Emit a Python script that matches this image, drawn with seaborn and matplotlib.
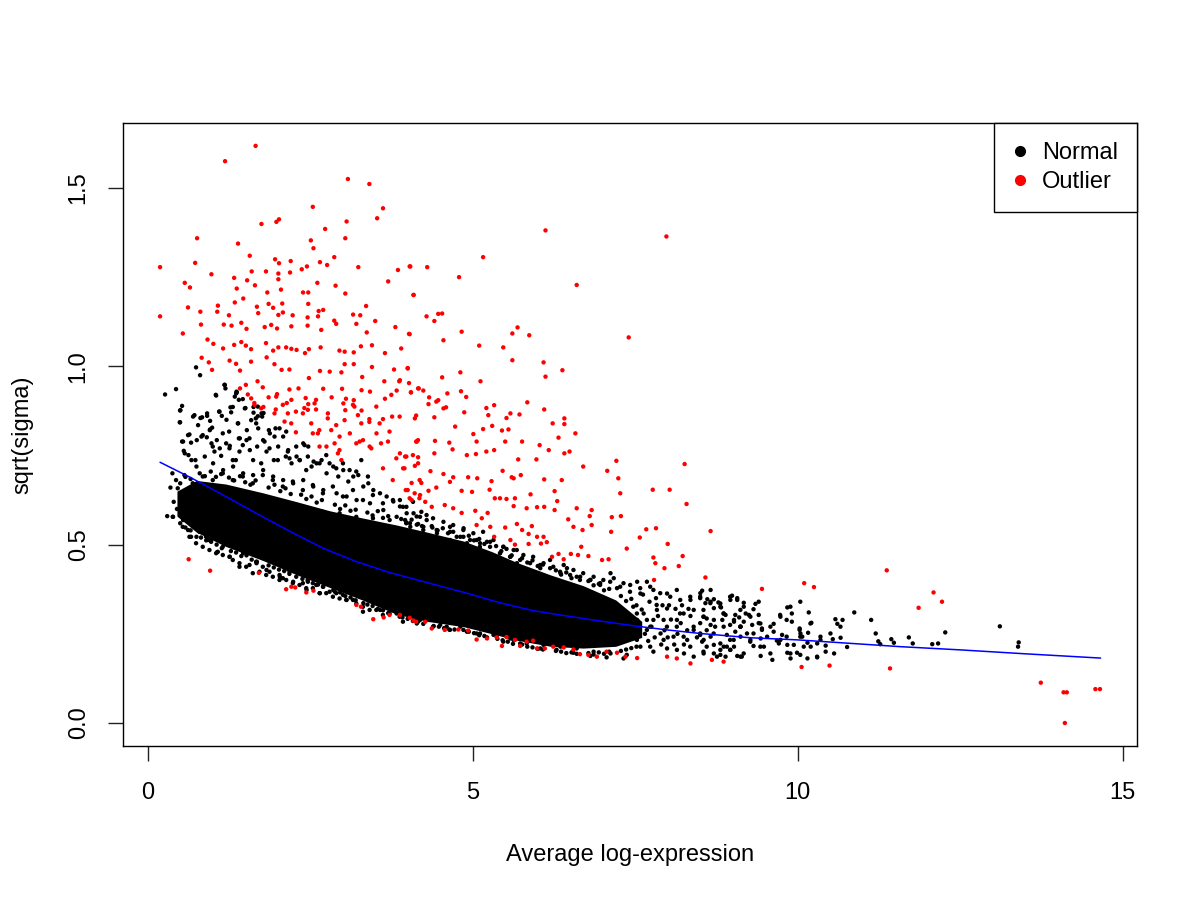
import numpy as np
import pandas as pd
import matplotlib
matplotlib.use('Agg')
import matplotlib.pyplot as plt
from matplotlib.lines import Line2D
import seaborn as sns

# --- DATA ---
# dense (nearly solid) part of the cloud: x, lower edge, upper edge
CORE_X = [0.45, 0.75, 1.2, 1.78, 2.3, 2.8, 3.3, 3.83, 4.3, 4.86, 5.3, 5.68, 6.2, 6.7, 7.2, 7.6]
CORE_LO = [0.58, 0.535, 0.495, 0.455, 0.415, 0.38, 0.345, 0.305, 0.285, 0.27, 0.25, 0.232, 0.215, 0.21, 0.215, 0.24]
CORE_HI = [0.65, 0.68, 0.67, 0.645, 0.62, 0.595, 0.575, 0.555, 0.535, 0.51, 0.48, 0.45, 0.415, 0.385, 0.345, 0.285]

# scattered normal points around the dense part
NORMAL_PTS = [
    (0.267, 0.921), (0.436, 0.936), (1.181, 0.948), (1.196, 0.938), (1.361, 0.924), (1.053, 0.918),
    (1.402, 0.906), (0.529, 0.889), (0.498, 0.876), (0.719, 0.863), (0.837, 0.857), (0.914, 0.861),
    (0.960, 0.847), (0.991, 0.828), (1.104, 0.873), (1.140, 0.861), (1.273, 0.885), (1.284, 0.871),
    (1.386, 0.840), (0.498, 0.843), (0.642, 0.809), (0.529, 0.789), (0.555, 0.763), (0.627, 0.751),
    (0.667, 0.786), (0.755, 0.793), (0.734, 0.737), (0.847, 0.807), (0.909, 0.801), (0.960, 0.823),
    (1.001, 0.775), (1.027, 0.761), (1.063, 0.793), (1.130, 0.749), (1.155, 0.812), (1.207, 0.784),
    (1.258, 0.770), (1.309, 0.737), (1.402, 0.798), (1.412, 0.761), (1.463, 0.779), (1.525, 0.821),
    (1.566, 0.798), (1.592, 0.849), (1.628, 0.870), (1.669, 0.840), (1.684, 0.775), (1.694, 0.887),
    (1.746, 0.728), (1.761, 0.859), (1.797, 0.789), (1.864, 0.821), (1.874, 0.770), (1.951, 0.803),
    (2.002, 0.737), (2.028, 0.826), (2.131, 0.817), (2.156, 0.761), (2.182, 0.742), (2.285, 0.775),
    (2.336, 0.737), (2.413, 0.779), (2.439, 0.709), (2.464, 0.747), (2.552, 0.733), (2.644, 0.728),
    (2.747, 0.751), (2.798, 0.728), (2.901, 0.714), (3.004, 0.728), (3.106, 0.709), (3.209, 0.705),
    (3.286, 0.737), (3.388, 0.691), (0.385, 0.578), (0.462, 0.658), (0.513, 0.635), (0.565, 0.611),
    (0.591, 0.569), (0.667, 0.522), (0.719, 0.550), (0.796, 0.536), (0.898, 0.522), (0.976, 0.508),
    (1.078, 0.480), (1.155, 0.494), (1.258, 0.466), (1.412, 0.448), (1.566, 0.443), (1.669, 0.452),
    (1.771, 0.438), (1.874, 0.424), (2.028, 0.415), (2.079, 0.406), (2.182, 0.424), (2.285, 0.410),
    (2.387, 0.392), (2.464, 0.396), (2.593, 0.387), (2.696, 0.382), (2.798, 0.368), (2.901, 0.364),
    (3.004, 0.359), (3.158, 0.345), (3.312, 0.326), (3.517, 0.317), (3.722, 0.307), (3.876, 0.298),
    (4.030, 0.307), (4.133, 0.289),
    (0.744, 0.997), (0.806, 0.975), (0.811, 0.855), (1.309, 0.886), (1.371, 0.927), (1.463, 0.908),
    (1.504, 0.883), (1.628, 0.886), (1.694, 0.860), (1.782, 0.869),
    (0.30, 0.58), (0.35, 0.66), (0.40, 0.62), (0.45, 0.60), (0.38, 0.70),
    (0.436, 0.681), (0.565, 0.695), (0.693, 0.672), (0.847, 0.691), (1.001, 0.681), (1.155, 0.700),
    (1.309, 0.681), (1.463, 0.691), (1.617, 0.672), (1.771, 0.695), (1.925, 0.681), (2.079, 0.663),
    (2.233, 0.677), (2.387, 0.653), (2.541, 0.667), (2.696, 0.644), (2.849, 0.663), (3.004, 0.635),
    (3.158, 0.653), (3.312, 0.625), (3.465, 0.639), (3.619, 0.616), (3.773, 0.625), (3.927, 0.606),
    (4.082, 0.620), (4.210, 0.592), (0.642, 0.644), (0.898, 0.635), (1.155, 0.639), (1.412, 0.625),
    (1.669, 0.616), (1.925, 0.606), (2.182, 0.616), (2.439, 0.597), (2.696, 0.592), (2.952, 0.588),
    (3.209, 0.578), (3.465, 0.574), (3.722, 0.569), (3.978, 0.560),
    (0.642, 0.522), (0.847, 0.494), (1.053, 0.476), (1.309, 0.457), (1.515, 0.438), (1.720, 0.424),
    (1.925, 0.410), (2.131, 0.401), (2.336, 0.387), (2.541, 0.378), (2.747, 0.364), (2.952, 0.349),
    (3.209, 0.335), (3.414, 0.317), (0.539, 0.550), (0.744, 0.504), (0.950, 0.485), (1.155, 0.471),
    (1.412, 0.438), (1.617, 0.420), (1.823, 0.415), (2.028, 0.401), (2.233, 0.392), (2.439, 0.378),
    (2.644, 0.364), (2.849, 0.354), (3.055, 0.345), (3.312, 0.312), (3.619, 0.303), (3.927, 0.284),
    (3.88, 0.625), (3.98, 0.606), (4.09, 0.588), (4.19, 0.578), (4.29, 0.583), (4.39, 0.574),
    (4.55, 0.564), (4.70, 0.555), (4.86, 0.546), (5.01, 0.532), (5.16, 0.536), (5.32, 0.513),
    (5.47, 0.494), (5.63, 0.485), (5.78, 0.471), (5.93, 0.466), (6.09, 0.448), (6.24, 0.438),
    (6.40, 0.443), (6.55, 0.429), (6.70, 0.420), (6.86, 0.410), (7.01, 0.401), (7.17, 0.406),
    (7.32, 0.392), (4.04, 0.550), (4.24, 0.541), (4.45, 0.532), (4.65, 0.513), (4.91, 0.504),
    (5.11, 0.494), (5.42, 0.476), (5.68, 0.448), (6.04, 0.434), (6.35, 0.420), (6.65, 0.401),
    (6.96, 0.387), (7.22, 0.378), (3.96, 0.569), (4.16, 0.558), (4.37, 0.552), (4.81, 0.522),
    (5.22, 0.508), (5.58, 0.466), (6.19, 0.457), (6.45, 0.434), (6.81, 0.401), (7.12, 0.420),
    (3.88, 0.307), (4.04, 0.298), (4.19, 0.289), (4.50, 0.275), (4.81, 0.270), (5.06, 0.251),
    (5.32, 0.247), (5.58, 0.237), (5.83, 0.223), (6.09, 0.219), (6.35, 0.214), (6.60, 0.209),
    (6.86, 0.200), (7.12, 0.195), (7.37, 0.191), (4.14, 0.279), (4.39, 0.270), (4.65, 0.261),
    (4.91, 0.256), (5.22, 0.240), (5.47, 0.228), (5.73, 0.223), (6.04, 0.209), (6.29, 0.205),
    (6.55, 0.197), (6.81, 0.188), (7.06, 0.184), (7.32, 0.181),
    (7.53, 0.396), (7.68, 0.396), (7.42, 0.368), (7.58, 0.363), (7.78, 0.373), (7.99, 0.363),
    (8.14, 0.373), (8.35, 0.345), (8.50, 0.354), (8.66, 0.340), (8.81, 0.335), (8.96, 0.354),
    (9.07, 0.345), (9.17, 0.326), (7.47, 0.326), (7.63, 0.307), (7.83, 0.331), (7.99, 0.321),
    (8.19, 0.307), (8.40, 0.317), (8.55, 0.298), (8.71, 0.289), (8.86, 0.307), (9.02, 0.284),
    (9.12, 0.270), (7.47, 0.251), (7.68, 0.261), (7.89, 0.251), (8.09, 0.242), (8.30, 0.233),
    (8.50, 0.247), (8.71, 0.219), (8.91, 0.214), (9.12, 0.186), (7.58, 0.214), (7.78, 0.200),
    (7.99, 0.209), (8.25, 0.195), (8.40, 0.186), (8.81, 0.191), (8.96, 0.205), (9.22, 0.251),
    (7.53, 0.289), (7.78, 0.289), (8.14, 0.270), (8.40, 0.261),
    (8.53, 0.371), (8.66, 0.373), (8.50, 0.350), (8.61, 0.347), (8.71, 0.347), (8.78, 0.338),
    (8.99, 0.357), (9.07, 0.350), (9.17, 0.337), (9.35, 0.334), (9.40, 0.340), (9.32, 0.319),
    (9.20, 0.307), (9.10, 0.296), (9.04, 0.303), (8.86, 0.307), (8.71, 0.322), (8.55, 0.317),
    (8.60, 0.293), (8.73, 0.270), (8.84, 0.289), (8.96, 0.275), (9.12, 0.270), (9.25, 0.303),
    (9.40, 0.280), (9.45, 0.261), (9.63, 0.278), (9.73, 0.303), (9.84, 0.324), (9.91, 0.307),
    (10.04, 0.340), (10.03, 0.265), (10.17, 0.310), (10.21, 0.281), (10.07, 0.242), (10.15, 0.225),
    (10.30, 0.223), (10.35, 0.233), (10.43, 0.217), (10.54, 0.235), (10.58, 0.291), (10.61, 0.278),
    (10.66, 0.239), (10.69, 0.289), (10.76, 0.213), (10.87, 0.310), (11.13, 0.289), (11.20, 0.251),
    (11.24, 0.229), (11.27, 0.221), (11.44, 0.235), (11.48, 0.225), (11.71, 0.240), (11.77, 0.223),
    (12.07, 0.221), (12.16, 0.223), (12.27, 0.254), (13.11, 0.271), (13.40, 0.226), (13.39, 0.214),
    (8.50, 0.251), (8.66, 0.242), (8.81, 0.223), (8.96, 0.233), (9.12, 0.242), (9.27, 0.228),
    (9.43, 0.237), (9.53, 0.242), (9.68, 0.231), (9.84, 0.219), (9.94, 0.219), (8.55, 0.200),
    (8.71, 0.195), (8.89, 0.186), (9.07, 0.188), (9.14, 0.186), (9.43, 0.188), (9.61, 0.177),
    (9.84, 0.197), (9.89, 0.181), (9.99, 0.197), (10.04, 0.191), (10.15, 0.181), (10.30, 0.184),
    (10.43, 0.200), (10.56, 0.195), (8.60, 0.214), (8.81, 0.205), (9.02, 0.214), (9.32, 0.216),
    (9.48, 0.214), (9.71, 0.223), (9.83, 0.242), (10.04, 0.242), (10.16, 0.253), (9.32, 0.251),
    (9.04, 0.256), (8.91, 0.247), (8.53, 0.228), (8.66, 0.275), (8.58, 0.336), (8.82, 0.324),
    (8.89, 0.303), (9.02, 0.289), (9.17, 0.284), (9.30, 0.275), (9.40, 0.303), (9.45, 0.265),
    (9.63, 0.256), (9.76, 0.247), (9.83, 0.289), (9.91, 0.284), (10.03, 0.261), (10.20, 0.214),
    (0.503, 0.877), (0.493, 0.843), (0.544, 0.789), (0.621, 0.807), (0.698, 0.859), (0.775, 0.835),
    (0.827, 0.803), (0.914, 0.868), (0.955, 0.821), (0.981, 0.784), (1.047, 0.920), (1.099, 0.873),
    (1.109, 0.770), (1.186, 0.948), (1.212, 0.850), (1.253, 0.817), (1.263, 0.777), (1.340, 0.915),
    (1.356, 0.737), (1.366, 0.929), (1.392, 0.840), (1.417, 0.798), (1.494, 0.882), (1.520, 0.793),
    (1.571, 0.765), (1.622, 0.737), (1.663, 0.854), (1.700, 0.826), (1.751, 0.868), (1.776, 0.793),
    (1.828, 0.761), (1.879, 0.812), (1.941, 0.737), (1.966, 0.826), (2.007, 0.775), (2.084, 0.803),
    (2.125, 0.747), (2.161, 0.765), (2.213, 0.728), (2.290, 0.747), (2.341, 0.737), (2.393, 0.784),
    (2.470, 0.775), (2.521, 0.719), (2.598, 0.728), (2.675, 0.737), (2.752, 0.700), (2.855, 0.719),
    (2.932, 0.691), (3.009, 0.709), (3.086, 0.677), (3.163, 0.691), (3.240, 0.695), (3.317, 0.663),
    (3.394, 0.672), (3.471, 0.653), (3.574, 0.644), (3.676, 0.635), (3.779, 0.621), (3.881, 0.607),
    (3.984, 0.588), (4.138, 0.579), (4.292, 0.569),
    (0.570, 0.756), (0.673, 0.737), (0.750, 0.719), (0.878, 0.747), (1.006, 0.728), (1.160, 0.709),
    (1.314, 0.719), (1.468, 0.700), (1.622, 0.695), (1.776, 0.709), (1.930, 0.691), (2.084, 0.681),
    (2.238, 0.672), (2.393, 0.681), (2.547, 0.663), (2.701, 0.653), (2.906, 0.644), (3.060, 0.635),
    (3.214, 0.625), (3.420, 0.616), (3.625, 0.597), (3.830, 0.578), (4.035, 0.560), (4.241, 0.550),
    (4.446, 0.541), (4.651, 0.536), (4.857, 0.522), (5.062, 0.513), (5.268, 0.508), (5.473, 0.494),
    (5.678, 0.485),
    (0.390, 0.578), (0.544, 0.569), (0.621, 0.541), (0.750, 0.522), (0.929, 0.513), (1.068, 0.479),
    (1.263, 0.466), (1.468, 0.476), (1.674, 0.448), (1.828, 0.429), (2.033, 0.410), (2.238, 0.396),
    (2.444, 0.373), (2.649, 0.364), (2.855, 0.373), (3.060, 0.345), (3.317, 0.336), (3.574, 0.317),
    (3.830, 0.307), (4.087, 0.298), (4.343, 0.289), (4.600, 0.270), (4.857, 0.261), (5.113, 0.251),
    (5.370, 0.242), (5.627, 0.233),
    (4.651, 0.550), (4.754, 0.522), (4.856, 0.541), (4.959, 0.513), (5.113, 0.504), (5.267, 0.494),
    (5.421, 0.476), (5.575, 0.466), (5.729, 0.457), (5.883, 0.448), (6.037, 0.443), (6.191, 0.434),
    (6.345, 0.424), (6.499, 0.415), (6.653, 0.410), (6.807, 0.401), (6.961, 0.392), (7.115, 0.396),
    (7.269, 0.382), (7.423, 0.387), (7.577, 0.378), (7.731, 0.382), (7.885, 0.364), (8.039, 0.354),
    (8.193, 0.345), (8.347, 0.354), (8.502, 0.364), (8.656, 0.336), (8.810, 0.326), (8.964, 0.345),
    (9.118, 0.317), (9.272, 0.298), (9.426, 0.279), (9.580, 0.270), (9.734, 0.298), (9.888, 0.326),
    (10.042, 0.251), (10.196, 0.279), (10.350, 0.242), (10.504, 0.251), (10.658, 0.270),
    (7.526, 0.307), (7.680, 0.289), (7.834, 0.317), (7.988, 0.270), (8.142, 0.289), (8.245, 0.242),
    (8.399, 0.270), (8.553, 0.233), (8.707, 0.251), (8.861, 0.214), (9.015, 0.233), (9.169, 0.195),
    (7.526, 0.233), (7.731, 0.214), (7.937, 0.233), (8.142, 0.205), (8.347, 0.214), (8.553, 0.195),
    (8.758, 0.186), (8.964, 0.205), (7.731, 0.270), (7.937, 0.289), (8.245, 0.307), (8.553, 0.298),
    (8.861, 0.270), (9.118, 0.270), (9.272, 0.233), (9.426, 0.214), (9.580, 0.195), (9.734, 0.233),
    (9.888, 0.195), (10.093, 0.214), (10.298, 0.186),
    # points hugging the upper edge of the dense part
    (0.50, 0.672), (0.58, 0.690), (0.66, 0.684), (0.80, 0.700), (0.88, 0.692), (0.97, 0.705),
    (1.05, 0.690), (1.13, 0.698), (1.25, 0.688), (1.33, 0.680), (1.42, 0.692), (1.50, 0.675),
    (1.58, 0.668), (1.66, 0.680), (1.86, 0.660), (1.95, 0.668), (2.04, 0.650), (2.12, 0.658),
    (2.20, 0.642), (2.36, 0.640), (2.44, 0.628), (2.52, 0.635), (2.60, 0.618), (2.68, 0.625),
    (2.88, 0.612), (2.96, 0.600), (3.04, 0.610), (3.12, 0.595), (3.20, 0.598), (3.38, 0.590),
    (3.46, 0.582), (3.54, 0.594), (3.62, 0.575), (3.70, 0.580), (3.90, 0.572), (3.98, 0.562),
    (4.06, 0.570), (4.14, 0.556), (4.22, 0.552), (4.38, 0.548), (4.46, 0.540), (4.54, 0.546),
    (4.62, 0.532), (4.70, 0.536), (4.94, 0.525), (5.02, 0.512), (5.10, 0.516), (5.18, 0.502),
    (5.36, 0.496), (5.44, 0.482), (5.52, 0.488), (5.60, 0.470), (5.76, 0.462), (5.84, 0.450),
    (5.92, 0.456), (6.00, 0.440), (6.08, 0.444), (6.28, 0.428), (6.36, 0.416), (6.44, 0.422),
    (6.52, 0.406), (6.60, 0.410), (6.78, 0.398), (6.86, 0.386), (6.94, 0.390), (7.02, 0.372),
    (7.10, 0.376), (7.28, 0.356), (7.36, 0.342), (7.44, 0.348), (7.52, 0.330), (7.60, 0.318),
    # points hugging the lower edge of the dense part
    (0.50, 0.560), (0.58, 0.548), (0.66, 0.540), (0.82, 0.520), (0.90, 0.512), (0.98, 0.515),
    (1.06, 0.500), (1.14, 0.490), (1.28, 0.482), (1.36, 0.478), (1.44, 0.468), (1.52, 0.470),
    (1.60, 0.458), (1.68, 0.452), (1.86, 0.442), (1.94, 0.436), (2.02, 0.430), (2.10, 0.426),
    (2.18, 0.418), (2.38, 0.404), (2.46, 0.400), (2.54, 0.392), (2.62, 0.388), (2.70, 0.382),
    (2.88, 0.368), (2.96, 0.366), (3.04, 0.356), (3.12, 0.352), (3.20, 0.344), (3.38, 0.332),
    (3.46, 0.328), (3.54, 0.320), (3.62, 0.316), (3.70, 0.308), (3.92, 0.296), (4.00, 0.292),
    (4.08, 0.286), (4.16, 0.284), (4.24, 0.278), (4.40, 0.272), (4.48, 0.270), (4.56, 0.266),
    (4.64, 0.262), (4.72, 0.262), (4.94, 0.256), (5.02, 0.252), (5.10, 0.246), (5.18, 0.244),
    (5.38, 0.236), (5.46, 0.232), (5.54, 0.228), (5.62, 0.222), (5.76, 0.220), (5.84, 0.214),
    (5.92, 0.212), (6.00, 0.208), (6.08, 0.206), (6.28, 0.202), (6.36, 0.200), (6.44, 0.196),
    (6.52, 0.198), (6.60, 0.194), (6.78, 0.196), (6.86, 0.192), (6.94, 0.198), (7.02, 0.194),
    (7.10, 0.200), (7.28, 0.202), (7.36, 0.206), (7.44, 0.210), (7.52, 0.214),
    # thinning tail of the dense part
    (7.65, 0.25), (7.70, 0.23), (7.75, 0.27), (7.80, 0.24), (7.85, 0.30), (7.90, 0.22),
    (7.95, 0.26), (8.00, 0.24), (8.05, 0.29), (8.10, 0.22), (8.15, 0.25), (8.20, 0.28),
    (8.25, 0.22), (8.30, 0.26), (8.35, 0.30), (8.45, 0.24), (8.50, 0.28), (8.60, 0.26),
    (7.62, 0.36), (7.72, 0.34), (7.82, 0.35), (7.92, 0.33), (8.02, 0.33), (8.12, 0.32),
    (8.22, 0.33), (8.32, 0.32),
]

# outliers (red)
OUTLIER_PTS = [
    (1.66, 1.618), (1.19, 1.575), (3.08, 1.525), (3.41, 1.511), (2.54, 1.447), (3.62, 1.443),
    (3.53, 1.415), (2.73, 1.385), (3.06, 1.406), (1.75, 1.399), (1.98, 1.405), (2.02, 1.412),
    (0.76, 1.359), (1.39, 1.344), (2.51, 1.353), (3.04, 1.359), (2.55, 1.331), (0.19, 1.278),
    (0.73, 1.29), (1.57, 1.31), (1.96, 1.30), (2.20, 1.295), (2.65, 1.292), (2.87, 1.306),
    (2.02, 1.289), (2.45, 1.28), (2.76, 1.284), (3.24, 1.278), (3.85, 1.27), (4.03, 1.28),
    (0.98, 1.258), (1.60, 1.266), (1.82, 1.266), (2.01, 1.26), (2.19, 1.263), (2.37, 1.272),
    (1.33, 1.248), (1.53, 1.241), (2.01, 1.244), (0.57, 1.234), (0.65, 1.221), (1.37, 1.218),
    (1.65, 1.227), (2.05, 1.215), (2.61, 1.234), (2.89, 1.226), (3.70, 1.238), (1.84, 1.207),
    (2.39, 1.207), (2.47, 1.207), (3.04, 1.204), (4.09, 1.20), (1.47, 1.19), (1.86, 1.175),
    (2.07, 1.176), (2.47, 1.175), (3.36, 1.169), (0.62, 1.165), (1.08, 1.17), (1.34, 1.179),
    (1.68, 1.167), (1.93, 1.164), (2.63, 1.155), (2.70, 1.158), (0.19, 1.14), (0.81, 1.153),
    (1.07, 1.153), (1.25, 1.143), (1.70, 1.149), (2.01, 1.144), (2.08, 1.151), (2.23, 1.143),
    (2.46, 1.137), (2.62, 1.14), (2.87, 1.128), (3.16, 1.145), (3.27, 1.143), (3.50, 1.127),
    (0.82, 1.117), (0.54, 1.092), (1.17, 1.117), (1.29, 1.114), (1.44, 1.122), (1.52, 1.105),
    (1.80, 1.11), (1.90, 1.116), (1.99, 1.106), (2.21, 1.112), (2.46, 1.114), (2.67, 1.102),
    (2.90, 1.119), (3.21, 1.119), (3.37, 1.095), (3.81, 1.11), (4.03, 1.09),
    (0.92, 1.075), (1.01, 1.063), (1.16, 1.05), (1.33, 1.06), (1.44, 1.068), (1.51, 1.058),
    (1.59, 1.048), (1.82, 1.065), (1.93, 1.044), (2.01, 1.053), (2.13, 1.053), (2.21, 1.049),
    (2.29, 1.046), (2.42, 1.037), (2.48, 1.048), (2.66, 1.053), (2.95, 1.044), (3.03, 1.041),
    (3.17, 1.039), (3.28, 1.056), (3.45, 1.059), (3.65, 1.037), (3.90, 1.05),
    (0.83, 1.024), (0.94, 1.011), (0.99, 0.99), (1.26, 1.016), (1.36, 1.007), (1.59, 1.013),
    (1.83, 1.025), (1.95, 1.006), (2.06, 0.99), (2.18, 0.991), (1.42, 0.988),
    (2.48, 0.967), (2.65, 0.987), (2.80, 0.985), (2.98, 0.983), (3.03, 1.006), (3.17, 1.006),
    (3.30, 0.97), (3.45, 0.998), (3.64, 0.958), (3.79, 0.991), (3.87, 0.958), (4.00, 0.995),
    (4.17, 0.938), (1.69, 0.958), (1.77, 0.941), (1.51, 0.948), (1.42, 0.938), (1.86, 0.913),
    (1.99, 0.922), (2.18, 0.935), (2.32, 0.938), (2.43, 0.911), (2.59, 0.906), (2.70, 0.937),
    (2.83, 0.913), (2.99, 0.937), (3.05, 0.909), (3.17, 0.905), (3.29, 0.933), (3.42, 0.929),
    (3.65, 0.909), (3.83, 0.932), (4.05, 0.927), (1.54, 0.921), (1.64, 0.897), (1.78, 0.886),
    (1.97, 0.879), (2.14, 0.897), (2.21, 0.906), (2.28, 0.873), (2.41, 0.883), (2.47, 0.894),
    (2.59, 0.879), (2.77, 0.854), (3.01, 0.896), (3.04, 0.877), (3.18, 0.887), (3.29, 0.876),
    (3.41, 0.852), (3.62, 0.852), (3.76, 0.859), (4.13, 0.862),
    (2.28, 0.815), (2.54, 0.812), (2.64, 0.821), (2.75, 0.775), (2.90, 0.835), (2.95, 0.765),
    (2.98, 0.737), (3.11, 0.812), (3.26, 0.789), (3.41, 0.844), (3.44, 0.770), (3.52, 0.812),
    (3.59, 0.784), (3.62, 0.714), (3.72, 0.817), (3.77, 0.681), (3.88, 0.756), (3.95, 0.714),
    (4.00, 0.653), (4.08, 0.751), (4.13, 0.789), (4.16, 0.728), (4.18, 0.630),
    (1.592, 0.910), (1.643, 0.892), (1.746, 0.882), (1.951, 0.868), (1.977, 0.915), (2.079, 0.892),
    (2.105, 0.845), (2.156, 0.868), (2.208, 0.840), (2.387, 0.868), (2.464, 0.878), (2.516, 0.840),
    (2.567, 0.896), (2.618, 0.812), (2.644, 0.775), (2.772, 0.868), (2.824, 0.821), (2.875, 0.784),
    (2.926, 0.756), (2.952, 0.803), (3.029, 0.849), (3.158, 0.892), (3.209, 0.784), (3.234, 0.863),
    (3.286, 0.840), (3.312, 0.793), (3.414, 0.775), (3.517, 0.887), (3.568, 0.840), (3.697, 0.789),
    (3.748, 0.920), (3.825, 0.742), (3.876, 0.859), (3.979, 0.747), (4.030, 0.630), (4.107, 0.644),
    (4.158, 0.793), (4.184, 0.681),
    (0.63, 0.459), (0.96, 0.427), (1.71, 0.421), (2.13, 0.375), (2.21, 0.382), (2.27, 0.380),
    (2.44, 0.366), (2.55, 0.371), (3.21, 0.331), (3.28, 0.326), (3.47, 0.291), (3.63, 0.296),
    (3.72, 0.303), (3.88, 0.303), (4.03, 0.295), (4.13, 0.284),
    (6.12, 1.381), (7.98, 1.364), (5.16, 1.306), (4.04, 1.28), (4.30, 1.278), (4.79, 1.25),
    (6.60, 1.228), (4.09, 1.20), (4.29, 1.14), (4.47, 1.147), (4.53, 1.148), (4.41, 1.127),
    (4.02, 1.091), (4.83, 1.097), (5.69, 1.109), (5.61, 1.092), (5.87, 1.087), (7.40, 1.081),
    (4.55, 1.073), (5.10, 1.058), (5.47, 1.053), (5.61, 1.017), (6.09, 1.011), (6.38, 0.989),
    (4.00, 0.994), (4.81, 0.983), (4.53, 0.969), (6.12, 0.971), (5.12, 0.958), (3.88, 0.961),
    (4.02, 0.953), (4.16, 0.938), (4.24, 0.932), (4.05, 0.927), (4.61, 0.924), (4.82, 0.93),
    (4.90, 0.914), (4.33, 0.913), (4.47, 0.905), (5.84, 0.899), (5.33, 0.891), (5.21, 0.883),
    (4.59, 0.885), (5.52, 0.855), (6.41, 0.854),
    (4.32, 0.894), (4.44, 0.901), (4.55, 0.882), (4.87, 0.871), (5.24, 0.863), (5.58, 0.868),
    (5.72, 0.865), (6.10, 0.879), (4.11, 0.854), (4.41, 0.857), (4.73, 0.831), (5.01, 0.81),
    (5.16, 0.824), (5.30, 0.833), (5.45, 0.82), (5.55, 0.823), (6.23, 0.84), (6.41, 0.838),
    (6.58, 0.812), (4.14, 0.789), (4.42, 0.791), (4.64, 0.786), (4.69, 0.767), (5.06, 0.789),
    (5.33, 0.765), (5.50, 0.789), (5.76, 0.789), (6.03, 0.779), (6.17, 0.765), (6.32, 0.80),
    (6.41, 0.756), (6.49, 0.761), (3.96, 0.747), (4.16, 0.745), (4.41, 0.756), (4.91, 0.751),
    (5.05, 0.754), (5.21, 0.761), (5.70, 0.739), (5.98, 0.739), (3.93, 0.714), (4.11, 0.721),
    (4.35, 0.706), (4.55, 0.698), (4.70, 0.689), (4.93, 0.689), (5.07, 0.686), (5.46, 0.707),
    (5.60, 0.689), (5.74, 0.695), (6.10, 0.683), (6.37, 0.681), (6.70, 0.719), (7.07, 0.707),
    (7.21, 0.735), (7.24, 0.686), (8.26, 0.726), (4.06, 0.673), (4.21, 0.673), (3.97, 0.653),
    (4.19, 0.639), (4.32, 0.651), (4.44, 0.660), (4.65, 0.676), (4.83, 0.651), (4.99, 0.648),
    (5.26, 0.654), (5.29, 0.678), (5.63, 0.686), (5.89, 0.641), (6.26, 0.650), (6.30, 0.622),
    (7.27, 0.644), (7.77, 0.654), (8.03, 0.654), (8.29, 0.614), (4.06, 0.625), (4.27, 0.620),
    (4.37, 0.606), (4.57, 0.611), (4.70, 0.602), (4.83, 0.589), (5.04, 0.595), (5.23, 0.589),
    (5.34, 0.630), (5.42, 0.630), (5.52, 0.628), (5.65, 0.630), (5.63, 0.608), (5.83, 0.602),
    (5.99, 0.605), (6.10, 0.606), (6.26, 0.597), (6.47, 0.571), (6.60, 0.602), (6.83, 0.597),
    (6.80, 0.580), (7.14, 0.577), (7.28, 0.580), (5.14, 0.574), (5.27, 0.550), (5.06, 0.555),
    (5.50, 0.548), (5.68, 0.558), (5.76, 0.541), (5.86, 0.530), (5.91, 0.552), (5.99, 0.522),
    (6.09, 0.522), (6.55, 0.550), (6.69, 0.541), (6.83, 0.555), (7.13, 0.536), (7.57, 0.520),
    (7.67, 0.543), (7.82, 0.546), (8.00, 0.502), (8.66, 0.538), (5.33, 0.522), (5.58, 0.513),
    (5.65, 0.50), (5.86, 0.502), (6.05, 0.503), (6.14, 0.507), (6.22, 0.466), (6.32, 0.474),
    (6.40, 0.459), (6.51, 0.474), (6.62, 0.471), (6.67, 0.494), (6.78, 0.468), (6.99, 0.457),
    (7.09, 0.459), (7.37, 0.489), (7.78, 0.464), (7.81, 0.448), (7.95, 0.434), (8.17, 0.44),
    (8.23, 0.468), (8.58, 0.408), (7.79, 0.401),
    (4.09, 0.287), (4.27, 0.284), (4.37, 0.265), (4.57, 0.261), (4.78, 0.262), (4.93, 0.259),
    (5.06, 0.234), (5.22, 0.237), (5.37, 0.24), (5.45, 0.216), (5.52, 0.241), (5.65, 0.233),
    (5.73, 0.216), (5.83, 0.228), (5.93, 0.231), (5.99, 0.209), (6.11, 0.209), (6.24, 0.214),
    (6.40, 0.212), (6.55, 0.206), (6.65, 0.193), (6.78, 0.191), (6.91, 0.186), (7.06, 0.20),
    (7.22, 0.197), (7.35, 0.186), (7.53, 0.182), (7.99, 0.186), (8.14, 0.181), (8.35, 0.167),
    (8.68, 0.177), (8.86, 0.172),
    (9.45, 0.376), (10.10, 0.392), (10.25, 0.381), (11.37, 0.428), (12.09, 0.366), (12.22, 0.340),
    (11.86, 0.323), (10.06, 0.157), (10.49, 0.161), (11.42, 0.153), (13.74, 0.113), (14.09, 0.086),
    (14.14, 0.086), (14.58, 0.095), (14.65, 0.095), (14.11, 0.0),
]

# fitted trend (blue line)
TREND_X = [0.19, 0.64, 1.0, 1.67, 2.2, 2.70, 3.2, 3.72, 4.23, 4.91, 5.4, 5.93, 6.45, 6.96, 7.5, 7.99,
           8.5, 9.27, 10.0, 11.0, 11.58, 12.5, 13.5, 14.66]
TREND_Y = [0.731, 0.690, 0.655, 0.588, 0.536, 0.490, 0.453, 0.422, 0.397, 0.364, 0.338, 0.315, 0.300,
           0.286, 0.272, 0.261, 0.251, 0.239, 0.233, 0.221, 0.214, 0.205, 0.194, 0.182]

X_TICKS = [0, 5, 10, 15]
Y_TICKS = [0.0, 0.5, 1.0, 1.5]
Y_TICK_LABELS = ['0.0', '0.5', '1.0', '1.5']

# --- PLOT ---
sns.set_style('ticks')
plt.rcParams['font.family'] = ['Liberation Sans', 'DejaVu Sans']
plt.rcParams['text.color'] = 'black'
plt.rcParams['axes.labelcolor'] = 'black'
plt.rcParams['xtick.color'] = 'black'
plt.rcParams['ytick.color'] = 'black'

pts = pd.DataFrame(NORMAL_PTS + OUTLIER_PTS, columns=['x', 'y'])
pts['status'] = ['Normal'] * len(NORMAL_PTS) + ['Outlier'] * len(OUTLIER_PTS)

fig = plt.figure(figsize=(12, 9), dpi=100)
ax = fig.add_axes([0.1025, 0.1711, 0.845, 0.6922])

# dense part of the cloud
ax.fill_between(CORE_X, CORE_LO, CORE_HI, color='black', linewidth=0)
sns.scatterplot(data=pts, x='x', y='y', hue='status',
                palette={'Normal': 'black', 'Outlier': '#FF0000'},
                s=10, linewidth=0, marker='o', legend=False, ax=ax)
sns.lineplot(x=TREND_X, y=TREND_Y, color='#0000FF', linewidth=1.1, ax=ax)

ax.set_xlim(-0.38, 15.22)
ax.set_ylim(-0.0645, 1.682)
ax.set_xticks(X_TICKS)
ax.set_xticklabels([str(t) for t in X_TICKS])
ax.set_yticks(Y_TICKS)
ax.set_yticklabels(Y_TICK_LABELS, rotation=90, va='center')
ax.tick_params(axis='both', length=11, width=1, color='#222222', labelsize=17)
ax.tick_params(axis='x', pad=15)
ax.tick_params(axis='y', pad=13)

for sp in ax.spines.values():
    sp.set_color('black')
    sp.set_linewidth(1)

ax.set_xlabel('Average log-expression', fontsize=17)
ax.set_ylabel('sqrt(sigma)', fontsize=17)
ax.xaxis.set_label_coords(0.5, -0.175)
ax.xaxis.label.set_va('center')
ax.yaxis.set_label_coords(-0.0996, 0.5)
ax.yaxis.label.set_va('center')

handles = [Line2D([], [], marker='o', linestyle='', color='black', markersize=7),
           Line2D([], [], marker='o', linestyle='', color='#FF0000', markersize=7)]
leg = ax.legend(handles, ['Normal', 'Outlier'], loc='upper right', borderaxespad=0,
                fontsize=17, handlelength=0.6, handletextpad=0.65, borderpad=0.8,
                labelspacing=0.31, fancybox=False, framealpha=1)
leg.get_frame().set_edgecolor('black')
leg.get_frame().set_linewidth(1)

fig.savefig('out.png', dpi=100, facecolor='white')
